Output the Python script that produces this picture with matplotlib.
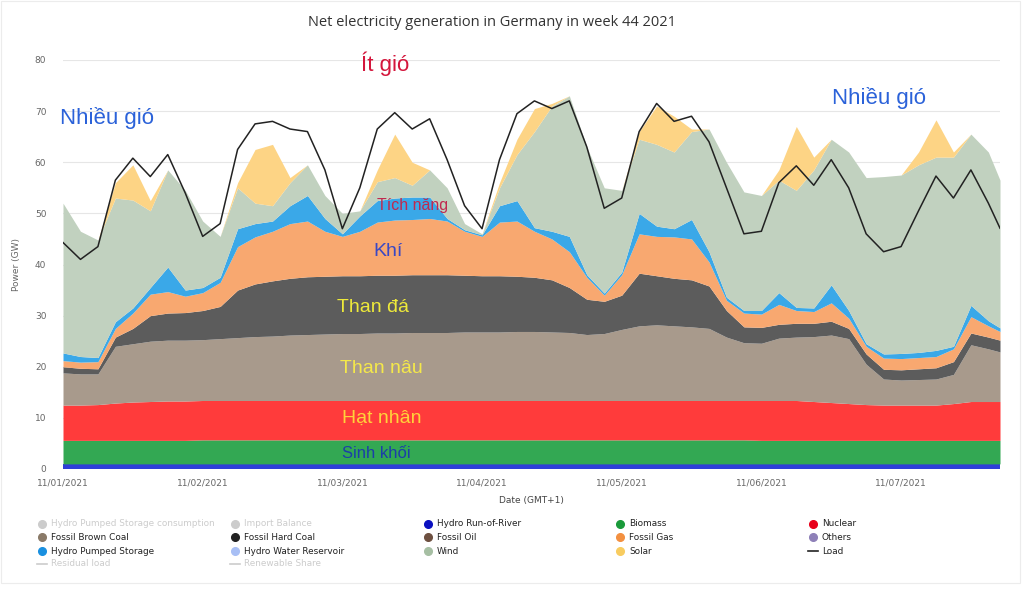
import numpy as np
import matplotlib
matplotlib.use('Agg')
import matplotlib.pyplot as plt
from matplotlib.lines import Line2D
from matplotlib.patches import Rectangle

# hours since 11/01/2021 00:00
hours = [0, 3, 6, 9, 12, 15, 18, 21, 24, 27, 30, 33, 36, 39, 42, 45, 48, 51, 54, 57,
         60, 63, 66, 69, 72, 75, 78, 81, 84, 87, 90, 93, 96, 99, 102, 105, 108, 111,
         114, 117, 120, 123, 126, 129, 132, 135, 138, 141, 144, 147, 150, 153, 156,
         159, 161]

# upper edge of each stacked layer (GW)
top_ror = [1.0, 1.0, 1.0, 1.0, 1.0, 1.0, 1.0, 1.0, 1.0, 1.0, 1.0, 1.0, 1.0, 1.0,
           1.0, 1.0, 1.0, 1.0, 1.0, 1.0, 1.0, 1.0, 1.0, 1.0, 1.0, 1.0, 1.0, 1.0,
           1.0, 1.0, 1.0, 1.0, 1.0, 1.0, 1.0, 1.0, 1.0, 1.0, 1.0, 1.0, 1.0, 1.0,
           1.0, 1.0, 1.0, 1.0, 1.0, 1.0, 1.0, 1.0, 1.0, 1.0, 1.0, 1.0, 1.0]
top_biomass = [5.6, 5.6, 5.6, 5.6, 5.6, 5.6, 5.6, 5.6, 5.7, 5.7, 5.7, 5.7, 5.7, 5.7,
               5.7, 5.7, 5.7, 5.7, 5.7, 5.7, 5.7, 5.7, 5.7, 5.7, 5.7, 5.7, 5.7, 5.7,
               5.7, 5.7, 5.7, 5.7, 5.7, 5.7, 5.7, 5.7, 5.7, 5.7, 5.7, 5.7, 5.6, 5.6,
               5.6, 5.6, 5.6, 5.6, 5.6, 5.6, 5.6, 5.6, 5.6, 5.6, 5.6, 5.6, 5.6]
top_nuclear = [12.5, 12.5, 12.6, 12.9, 13.1, 13.2, 13.3, 13.3, 13.4, 13.4, 13.4, 13.4,
               13.4, 13.4, 13.4, 13.4, 13.4, 13.4, 13.4, 13.4, 13.4, 13.4, 13.4, 13.4,
               13.4, 13.4, 13.4, 13.4, 13.4, 13.4, 13.4, 13.4, 13.4, 13.4, 13.4, 13.4,
               13.4, 13.4, 13.4, 13.4, 13.4, 13.4, 13.4, 13.2, 13.0, 12.8, 12.6, 12.5,
               12.5, 12.5, 12.5, 12.8, 13.2, 13.2, 13.2]
top_brown = [18.8, 18.6, 18.6, 24.0, 24.5, 25.0, 25.2, 25.2, 25.3, 25.5, 25.7, 25.9,
             26.0, 26.2, 26.3, 26.4, 26.5, 26.5, 26.6, 26.6, 26.7, 26.7, 26.7, 26.8,
             26.8, 26.8, 26.9, 26.9, 26.8, 26.7, 26.3, 26.5, 27.3, 28.0, 28.2, 28.0,
             27.8, 27.5, 25.8, 24.7, 24.6, 25.6, 25.8, 25.9, 26.2, 25.5, 20.5, 17.6,
             17.4, 17.5, 17.6, 18.5, 24.3, 23.5, 22.9]
top_hardcoal = [20.0, 19.7, 19.6, 25.8, 27.5, 30.0, 30.5, 30.6, 31.0, 31.8, 35.0, 36.2,
                36.8, 37.3, 37.6, 37.7, 37.8, 37.8, 37.9, 37.9, 38.0, 38.0, 38.0, 37.9,
                37.8, 37.8, 37.7, 37.5, 37.0, 35.5, 33.2, 32.8, 34.0, 38.3, 37.8, 37.3,
                37.0, 35.8, 31.0, 27.8, 27.7, 28.3, 28.5, 28.5, 28.9, 27.5, 22.5, 19.5,
                19.4, 19.6, 19.8, 21.0, 26.6, 25.8, 25.2]
top_gas = [21.2, 20.9, 21.0, 27.5, 30.5, 34.2, 34.7, 33.8, 34.5, 36.5, 43.5, 45.4,
           46.5, 48.0, 48.5, 46.5, 45.5, 46.5, 48.3, 48.7, 48.8, 49.0, 48.5, 46.5,
           45.5, 48.3, 48.5, 46.5, 45.0, 42.5, 37.5, 34.0, 38.0, 46.0, 45.5, 45.4,
           45.0, 40.5, 33.0, 30.5, 30.3, 32.2, 31.0, 30.8, 32.5, 29.5, 24.0, 21.7,
           21.6, 21.8, 22.0, 23.5, 29.8, 28.0, 26.9]
top_pumped = [22.7, 22.0, 21.8, 28.8, 31.5, 35.5, 39.5, 35.0, 35.5, 37.5, 47.0, 48.0,
              48.5, 51.5, 53.5, 49.0, 46.0, 49.5, 52.5, 53.0, 53.2, 53.2, 49.0, 46.8,
              45.8, 51.5, 52.5, 47.2, 46.5, 45.5, 38.0, 34.4, 38.5, 50.0, 47.5, 47.0,
              48.8, 42.5, 33.6, 31.0, 31.0, 34.5, 31.6, 31.5, 36.0, 31.0, 24.5, 22.5,
              22.6, 22.8, 23.2, 24.0, 32.0, 29.0, 27.6]
top_wind = [52.0, 46.5, 44.8, 53.0, 52.6, 50.5, 58.5, 54.5, 48.5, 45.5, 55.0, 52.0,
            51.5, 56.0, 59.5, 53.5, 50.0, 50.5, 56.2, 57.0, 55.5, 58.5, 55.0, 48.0,
            46.0, 55.0, 61.5, 66.0, 71.0, 73.0, 63.0, 55.0, 54.5, 64.5, 63.5, 62.0,
            66.0, 66.5, 60.0, 54.2, 53.5, 56.5, 54.5, 58.5, 64.5, 62.0, 57.0, 57.2,
            57.5, 59.5, 61.0, 61.0, 65.5, 62.0, 56.5]
top_solar = [52.0, 46.5, 44.8, 56.0, 59.5, 52.5, 58.5, 54.5, 48.5, 45.5, 56.0, 62.5,
             63.5, 57.0, 59.5, 53.5, 50.0, 50.5, 58.5, 65.5, 60.0, 58.5, 55.0, 48.0,
             46.0, 56.0, 64.5, 70.5, 71.5, 73.0, 63.0, 55.0, 54.5, 66.0, 71.0, 69.0,
             66.5, 66.5, 60.0, 54.2, 53.5, 58.5, 67.0, 61.0, 64.5, 62.0, 57.0, 57.2,
             57.5, 62.0, 68.3, 62.0, 65.5, 62.0, 56.5]
load = [44.3, 41.0, 43.5, 56.5, 60.8, 57.2, 61.5, 54.0, 45.5, 48.0, 62.5, 67.5,
        68.0, 66.5, 66.0, 58.5, 47.0, 55.0, 66.5, 69.7, 66.5, 68.5, 60.5, 51.5,
        47.0, 60.5, 69.5, 72.0, 70.5, 72.0, 63.0, 51.0, 53.0, 66.0, 71.5, 68.0,
        69.0, 64.0, 55.0, 46.0, 46.5, 56.0, 59.3, 55.5, 60.5, 55.0, 46.0, 42.5,
        43.5, 50.5, 57.3, 53.0, 58.5, 52.0, 47.1]

day_labels = ['11/01/2021', '11/02/2021', '11/03/2021', '11/04/2021',
              '11/05/2021', '11/06/2021', '11/07/2021']

# colors of the energy-charts series
c_ror = '#2f3fd8'
c_biomass = '#33a853'
c_nuclear = '#ff3b3b'
c_brown = '#a89a8c'
c_hard = '#5c5c5c'
c_oil = '#6e5040'
c_gas = '#f8a870'
c_pumped = '#3aa8e8'
c_wind = '#c1d1bf'
c_solar = '#fdd485'
c_others = '#8e80b8'
c_reservoir = '#a8bff5'
c_hidden = '#cccccc'

fig = plt.figure(figsize=(10.24, 5.89), dpi=100)
ax = fig.add_axes([63 / 1024, 1 - 469 / 589, (1000 - 63) / 1024, (469 - 60) / 589])

x = np.array(hours, dtype=float)
layers = [
    (np.zeros(len(x)), top_ror, c_ror),
    (top_ror, top_biomass, c_biomass),
    (top_biomass, top_nuclear, c_nuclear),
    (top_nuclear, top_brown, c_brown),
    (top_brown, top_hardcoal, c_hard),
    (top_hardcoal, top_gas, c_gas),
    (top_gas, top_pumped, c_pumped),
    (top_pumped, top_wind, c_wind),
    (top_wind, top_solar, c_solar),
]
for lo, hi, col in layers:
    ax.fill_between(x, lo, hi, color=col, linewidth=0, zorder=2)

ax.plot(x, load, color='#222222', linewidth=1.1, zorder=4)

ax.set_xlim(0, 161)
ax.set_ylim(0, 80)
ax.set_yticks(np.arange(0, 81, 10))
ax.set_xticks(np.arange(0, 145, 24))
ax.set_xticklabels(day_labels)
ax.grid(axis='y', color='#e6e6e6', linewidth=0.8, zorder=0)
for s in ax.spines.values():
    s.set_visible(False)
ax.tick_params(axis='both', length=0, labelsize=6.5, colors='#666666')
ax.tick_params(axis='x', pad=7)
ax.tick_params(axis='y', pad=12)
ax.set_ylabel('Power (GW)', fontsize=6.5, color='#666666', labelpad=10)
ax.set_xlabel('Date (GMT+1)', fontsize=6.5, color='#444444', labelpad=6)

fig.text(492 / 1024, 1 - 22 / 589, 'Net electricity generation in Germany in week 44 2021',
         ha='center', va='center', fontsize=10.5, color='#333333', family='Open Sans')

# Vietnamese annotations
ann = dict(ha='center', va='center', family='Liberation Sans', zorder=6)
ax.text(55.4, 79.3, 'Ít gió', fontsize=16, color='#d4163c', **ann)
ax.text(7.5, 68.7, 'Nhiều gió', fontsize=16, color='#2b62d9', **ann)
ax.text(140.2, 72.6, 'Nhiều gió', fontsize=16, color='#2b62d9', **ann)
ax.text(60.0, 51.6, 'Tích năng', fontsize=11.5, color='#c0294f', **ann)
ax.text(55.9, 42.6, 'Khí', fontsize=14, color='#3a48c4', **ann)
ax.text(53.3, 31.5, 'Than đá', fontsize=14, color='#eeea3a', **ann)
ax.text(54.7, 19.6, 'Than nâu', fontsize=14, color='#f4e84a', **ann)
ax.text(54.7, 10.0, 'Hạt nhân', fontsize=14, color='#ffd23a', **ann)
ax.text(53.8, 3.1, 'Sinh khối', fontsize=12, color='#1b3fa8', **ann)

# legend, laid out like the web chart (5 columns)
legend_rows = [
    [('Hydro Pumped Storage consumption', c_hidden, 'o', True),
     ('Import Balance', c_hidden, 'o', True),
     ('Hydro Run-of-River', '#0a10c0', 'o', False),
     ('Biomass', '#1a9a3a', 'o', False),
     ('Nuclear', '#e8001a', 'o', False)],
    [('Fossil Brown Coal', '#8a7a68', 'o', False),
     ('Fossil Hard Coal', '#222222', 'o', False),
     ('Fossil Oil', c_oil, 'o', False),
     ('Fossil Gas', '#f39040', 'o', False),
     ('Others', c_others, 'o', False)],
    [('Hydro Pumped Storage', '#1a90e0', 'o', False),
     ('Hydro Water Reservoir', c_reservoir, 'o', False),
     ('Wind', '#a6bfa3', 'o', False),
     ('Solar', '#f8cc60', 'o', False),
     ('Load', '#222222', '-', False)],
    [('Residual load', c_hidden, '-', True),
     ('Renewable Share', c_hidden, '-', True)],
]
col_x = [42, 235, 428, 620, 813]
row_y = [524, 537, 551, 564]
for r, row in enumerate(legend_rows):
    for c, (name, col, mk, hidden) in enumerate(row):
        fx = col_x[c] / 1024
        fy = 1 - row_y[r] / 589
        if mk == 'o':
            fig.add_artist(Line2D([fx], [fy], marker='o', markersize=5.5, color=col,
                                  linestyle='none', transform=fig.transFigure))
        else:
            fig.add_artist(Line2D([fx - 5 / 1024, fx + 5 / 1024], [fy, fy], color=col,
                                  linewidth=1.2, transform=fig.transFigure))
        fig.text(fx + 9 / 1024, fy, name, ha='left', va='center', fontsize=6.4,
                 color='#cccccc' if hidden else '#222222')

# faint frame around the screenshot
fig.add_artist(Rectangle((1 / 1024, 6 / 589), 1019 / 1024, 582 / 589, fill=False,
                         edgecolor='#ececec', linewidth=0.8, transform=fig.transFigure))

fig.savefig('out.png', dpi=100)
